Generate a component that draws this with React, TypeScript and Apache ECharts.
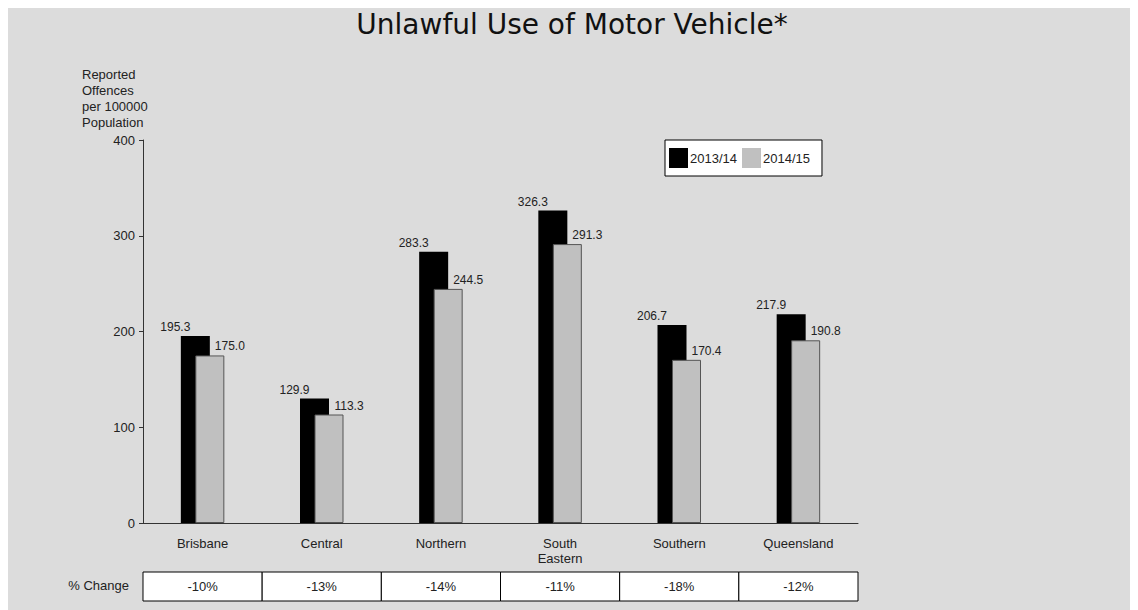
import React, { useEffect, useRef } from "react";
import * as echarts from "echarts";

const categories = ["Brisbane", "Central", "Northern", "South\nEastern", "Southern", "Queensland"];
const series2013 = [195.3, 129.9, 283.3, 326.3, 206.7, 217.9];
const series2014 = [175.0, 113.3, 244.5, 291.3, 170.4, 190.8];
const pctChange = ["-10%", "-13%", "-14%", "-11%", "-18%", "-12%"];
const yTicks = { min: 0, max: 400, interval: 100 };

const FONT = "'Liberation Sans', Arial, sans-serif";

export default function App() {
  const ref = useRef<HTMLDivElement>(null);
  useEffect(() => {
    if (!ref.current) return;
    const chart = echarts.init(ref.current, null, { renderer: "svg" });
    const option: any = {
      animation: false,
      backgroundColor: "#dcdcdc",
      textStyle: { fontFamily: FONT },
      title: {
        text: "Unlawful Use of Motor Vehicle*",
        left: "center",
        top: 0,
        padding: [2, 0, 0, 12],
        textStyle: { fontFamily: "'DejaVu Sans', sans-serif", fontSize: 28, fontWeight: "normal", color: "#111" },
      },
      legend: {
        left: 659,
        top: 132,
        orient: "horizontal",
        padding: [8, 12, 8, 4],
        itemGap: 5,
        itemWidth: 19,
        itemHeight: 20,
        icon: "rect",
        backgroundColor: "#fff",
        borderColor: "#000",
        borderWidth: 1,
        itemStyle: { borderWidth: 0 },
        textStyle: { fontSize: 13, color: "#222", fontFamily: FONT, padding: [0, 0, 0, -3] },
        data: ["2013/14", "2014/15"],
      },
      graphic: [
        {
          type: "text",
          left: 76,
          top: 58,
          style: {
            text: "Reported\nOffences\nper 100000\nPopulation",
            fontSize: 13,
            lineHeight: 16,
            fontFamily: FONT,
            fill: "#222",
          },
        },
        {
          type: "text",
          right: 1132 - 123,
          top: 571,
          style: { text: "% Change", fontSize: 13, fontFamily: FONT, fill: "#222" },
        },
      ],
      grid: [
        { left: 137, right: 280, top: 132, bottom: 87 },
        { left: 137, right: 280, top: 564, height: 29 },
      ],
      xAxis: [
        {
          type: "category",
          gridIndex: 0,
          data: categories,
          axisTick: { show: false },
          axisLine: { lineStyle: { color: "#333", width: 1 } },
          axisLabel: { interval: 0, margin: 13, fontSize: 13, lineHeight: 15, color: "#222", fontFamily: FONT },
        },
        {
          type: "category",
          gridIndex: 1,
          data: categories,
          show: false,
        },
      ],
      yAxis: [
        {
          type: "value",
          gridIndex: 0,
          min: yTicks.min,
          max: yTicks.max,
          interval: yTicks.interval,
          axisLine: { show: true, lineStyle: { color: "#333", width: 1 } },
          axisTick: { show: true, length: 4, lineStyle: { color: "#333" } },
          splitLine: { show: false },
          axisLabel: { margin: 8, fontSize: 13, color: "#222", fontFamily: FONT },
        },
        { type: "value", gridIndex: 1, min: 0, max: 1, show: false },
      ],
      series: [
        {
          name: "2013/14",
          type: "bar",
          xAxisIndex: 0,
          yAxisIndex: 0,
          data: series2013,
          barWidth: 29,
          barGap: "-50%",
          itemStyle: { color: "#000" },
          label: {
            show: true,
            position: "top",
            distance: 3,
            offset: [-20, 0],
            fontSize: 12,
            color: "#222",
            fontFamily: FONT,
            formatter: (p: any) => Number(p.value).toFixed(1),
          },
        },
        {
          name: "2014/15",
          type: "bar",
          xAxisIndex: 0,
          yAxisIndex: 0,
          data: series2014,
          barWidth: 29,
          barGap: "-50%",
          itemStyle: { color: "#c0c0c0", borderColor: "#555", borderWidth: 1 },
          label: {
            show: true,
            position: "top",
            distance: 3,
            offset: [20, 0],
            fontSize: 12,
            color: "#222",
            fontFamily: FONT,
            formatter: (p: any) => Number(p.value).toFixed(1),
          },
        },
        {
          type: "custom",
          xAxisIndex: 1,
          yAxisIndex: 1,
          silent: true,
          data: categories.map((_, i) => [i, 1]),
          encode: { x: 0, y: 1 },
          renderItem: (params: any, api: any) => {
            const idx = api.value(0);
            const bottom = api.coord([idx, 0]);
            const top = api.coord([idx, 1])[1];
            const bw = api.size([1, 0])[0];
            return {
              type: "group",
              children: [
                {
                  type: "rect",
                  shape: { x: bottom[0] - bw / 2, y: top, width: bw, height: bottom[1] - top },
                  style: { fill: "#fff", stroke: "#000", lineWidth: 1 },
                },
                {
                  type: "text",
                  style: {
                    text: pctChange[idx],
                    x: bottom[0],
                    y: (top + bottom[1]) / 2,
                    align: "center",
                    verticalAlign: "middle",
                    fontSize: 13,
                    fontFamily: FONT,
                    fill: "#222",
                  },
                },
              ],
            };
          },
        },
      ],
    };
    chart.setOption(option);
    return () => chart.dispose();
  }, []);
  return <div ref={ref} style={{ width: 1132, height: 602, marginLeft: -2 }} />;
}
